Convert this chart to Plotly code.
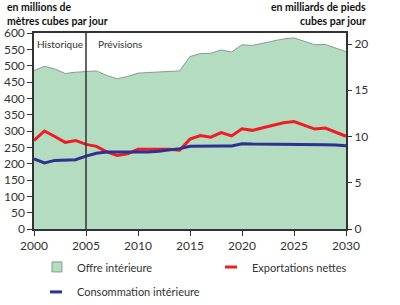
import plotly.graph_objects as go

## Data (millions m3/day)
years = list(range(2000, 2031))

offre = [485, 498, 490, 476, 480, 483, 484, 470, 460, 467,
         477, 479, 480, 482, 484, 528, 537, 538, 548, 542,
         564, 562, 569, 577, 582, 585, 574, 564, 565, 555, 543]

exportations = [271, 300, 283, 265, 271, 259, 253, 236, 225, 230,
                244, 244, 245, 244, 241, 275, 286, 281, 295, 285,
                307, 302, 310, 317, 325, 329, 317, 306, 309, 297, 284]

consommation = [215, 202, 210, 211, 212, 223, 232, 236, 236, 236,
                235, 236, 238, 241, 246, 253, 254, 254, 254, 254,
                261, 260, 260, 260, 260, 259, 258, 258, 258, 257, 255]

M3_PER_CF = 28.3168  # million m3 per billion cubic feet
FONT = "Lato"
TXT = "#333333"
GREEN = "#b3dcc0"
RED = "#ee1c24"
BLUE = "#2e3192"

fig = go.Figure()

# Offre interieure (area)
fig.add_trace(go.Scatter(
    x=years, y=offre, name="Offre intérieure",
    fill="tozeroy", fillcolor=GREEN,
    line=dict(color="#8a9a90", width=1),
    mode="lines", showlegend=False
))

# Exportations nettes
fig.add_trace(go.Scatter(
    x=years, y=exportations, name="Exportations nettes",
    line=dict(color=RED, width=3),
    mode="lines", showlegend=False
))

# Consommation interieure
fig.add_trace(go.Scatter(
    x=years, y=consommation, name="Consommation intérieure",
    line=dict(color=BLUE, width=3),
    mode="lines", showlegend=False
))

# dummy trace so the right axis is drawn
fig.add_trace(go.Scatter(
    x=years, y=[v / M3_PER_CF for v in offre], yaxis="y2",
    mode="lines", line=dict(width=0), showlegend=False, hoverinfo="skip"
))

# Historique / Previsions divider
fig.add_shape(type="line", x0=2005, x1=2005, y0=0, y1=600,
              xref="x", yref="y", line=dict(color="#333333", width=1.5))

fig.add_annotation(x=2002.5, y=566, xref="x", yref="y", text="Historique",
                   showarrow=False, font=dict(size=10, color=TXT, family=FONT))
fig.add_annotation(x=2006, y=566, xref="x", yref="y", text="Prévisions",
                   showarrow=False, xanchor="left",
                   font=dict(size=10, color=TXT, family=FONT))

# axis titles, one annotation per line to keep them tight
title_font = dict(size=10.5, color="#111111", family=FONT)
for txt, yy in [("en millions de", 1.097), ("mètres cubes par jour", 1.028)]:
    fig.add_annotation(x=-0.09, y=yy, xref="paper", yref="paper",
                       text="<b>" + txt + "</b>", showarrow=False, borderpad=0,
                       xanchor="left", yanchor="bottom", font=title_font)
for txt, yy in [("en milliards de pieds", 1.097), ("cubes par jour", 1.028)]:
    fig.add_annotation(x=1.066, y=yy, xref="paper", yref="paper",
                       text="<b>" + txt + "</b>", showarrow=False, borderpad=0,
                       xanchor="right", yanchor="bottom", font=title_font)

# hand-placed legend
leg_font = dict(size=11, color=TXT, family=FONT)
fig.add_shape(type="rect", xref="paper", yref="paper",
              x0=0.0577, x1=0.0897, y0=-0.219, y1=-0.168,
              fillcolor=GREEN, line=dict(color="#8a9a90", width=1))
fig.add_annotation(x=0.131, y=-0.194, xref="paper", yref="paper",
                   text="Offre intérieure", showarrow=False,
                   xanchor="left", yanchor="middle", font=leg_font)
fig.add_shape(type="line", xref="paper", yref="paper",
              x0=0.612, x1=0.651, y0=-0.194, y1=-0.194,
              line=dict(color=RED, width=3))
fig.add_annotation(x=0.692, y=-0.194, xref="paper", yref="paper",
                   text="Exportations nettes", showarrow=False,
                   xanchor="left", yanchor="middle", font=leg_font)
fig.add_shape(type="line", xref="paper", yref="paper",
              x0=0.0513, x1=0.0897, y0=-0.321, y1=-0.321,
              line=dict(color=BLUE, width=3))
fig.add_annotation(x=0.131, y=-0.321, xref="paper", yref="paper",
                   text="Consommation intérieure", showarrow=False,
                   xanchor="left", yanchor="middle", font=leg_font)

fig.update_layout(
    width=400, height=305,
    margin=dict(l=34, r=54, t=33, b=76),
    paper_bgcolor="white", plot_bgcolor="white",
    font=dict(family=FONT, size=12, color=TXT),
    showlegend=False,
    xaxis=dict(range=[2000, 2030], tickvals=[2000, 2005, 2010, 2015, 2020, 2025, 2030],
               showgrid=False, zeroline=False, showline=True, linecolor="#333333",
               linewidth=1.5, mirror=True, ticks="outside", ticklen=5,
               tickcolor="#333333", automargin=False),
    yaxis=dict(range=[0, 600], dtick=50, showgrid=False, zeroline=False,
               showline=True, linecolor="#333333", linewidth=1.5, mirror=True,
               ticks="outside", ticklen=5, tickcolor="#333333", automargin=False),
    yaxis2=dict(range=[0, 600 / M3_PER_CF], overlaying="y", side="right",
                tickvals=[0, 5, 10, 15, 20], showgrid=False, zeroline=False,
                showline=False, ticks="outside", ticklen=5, tickcolor="#333333",
                automargin=False),
)

# drop the default page margin so the figure sits at the window's corner
fig.write_html("out.html", config={"displayModeBar": False},
               post_script="document.body.style.margin='0';")
